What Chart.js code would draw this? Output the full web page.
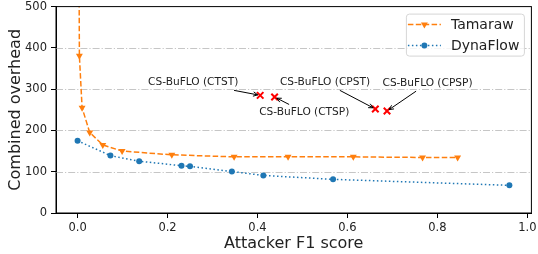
<!DOCTYPE html>
<html>
<head>
<meta charset="utf-8">
<script src="https://cdn.jsdelivr.net/npm/chart.js@4.4.1/dist/chart.umd.min.js"></script>
<style>
  html, body { margin: 0; padding: 0; background: #fff; }
</style>
</head>
<body>
<canvas id="overheadChart" width="538" height="254"></canvas>
<script>
// values
const tamarawF1 = [0.001, 0.004, 0.010, 0.027, 0.056, 0.099, 0.2095, 0.348, 0.468, 0.613, 0.767, 0.845];
const tamarawOverhead = [1200, 381, 255, 195, 165, 150, 141, 136, 136, 136, 134.5, 134.5];
const dynaflowF1 = [0.0, 0.073, 0.137, 0.231, 0.250, 0.343, 0.413, 0.568, 0.96];
const dynaflowOverhead = [175, 139, 125.5, 114.5, 113, 100.5, 91, 81.5, 67];
const bufloLabels = ['CS-BuFLO (CTST)', 'CS-BuFLO (CTSP)', 'CS-BuFLO (CPST)', 'CS-BuFLO (CPSP)'];
const bufloF1 = [0.406, 0.438, 0.662, 0.688];
const bufloOverhead = [285, 281, 252, 247];
const xTicks = [0, 0.2, 0.4, 0.6, 0.8, 1.0];
const yTicks = [0, 100, 200, 300, 400, 500];

// where each CS-BuFLO label text is centred (data units)
const bufloTextX = [0.257, 0.504, 0.55, 0.778];
const bufloTextY = [316, 244, 316, 314];

const ORANGE = '#ff7f0e';
const BLUE = '#1f77b4';
const FONT = '"DejaVu Sans", sans-serif';

const toPoints = (xs, ys) => xs.map((x, i) => ({ x: x, y: ys[i] }));

function drawMarker(ctx, style, x, y, r) {
    ctx.beginPath();
    if (style === 'tri') {
        ctx.moveTo(x, y + r);
        ctx.lineTo(x - r * 0.866, y - r * 0.5);
        ctx.lineTo(x + r * 0.866, y - r * 0.5);
        ctx.closePath();
    } else {
        ctx.arc(x, y, r, 0, Math.PI * 2);
    }
    ctx.fill();
}

const figurePlugin = {
    id: 'figure',
    beforeDatasetsDraw(chart) {
        const { ctx, chartArea: a, scales: { y } } = chart;
        ctx.save();
        ctx.strokeStyle = '#c6c6c6';
        ctx.lineWidth = 1;
        ctx.setLineDash([7, 2, 1.2, 2]);
        yTicks.forEach(v => {
            if (v <= y.min || v >= y.max) return;
            const py = Math.round(y.getPixelForValue(v)) + 0.5;
            ctx.beginPath();
            ctx.moveTo(a.left, py);
            ctx.lineTo(a.right, py);
            ctx.stroke();
        });
        ctx.restore();
    },
    afterDatasetsDraw(chart) {
        const { ctx, chartArea: a, scales: { x, y } } = chart;
        ctx.save();
        // frame
        ctx.strokeStyle = '#000';
        ctx.lineWidth = 1;
        ctx.strokeRect(a.left, a.top, a.right - a.left, a.bottom - a.top);

        // CS-BuFLO labels with arrows
        ctx.font = '10.6px ' + FONT;
        ctx.textAlign = 'center';
        ctx.textBaseline = 'middle';
        bufloLabels.forEach((label, i) => {
            const tx = x.getPixelForValue(bufloTextX[i]);
            const ty = y.getPixelForValue(bufloTextY[i]);
            const px = x.getPixelForValue(bufloF1[i]);
            const py = y.getPixelForValue(bufloOverhead[i]);
            ctx.fillStyle = '#222';
            ctx.fillText(label, tx, ty);

            const hw = ctx.measureText(label).width / 2 + 2;
            const hh = 7.8;
            const dx = px - tx, dy = py - ty;
            const len = Math.hypot(dx, dy);
            const t0 = Math.min(hw / Math.abs(dx), hh / Math.abs(dy));
            const t1 = 1 - 2.5 / len;
            const sx = tx + dx * t0, sy = ty + dy * t0;
            const ex = tx + dx * t1, ey = ty + dy * t1;
            const ang = Math.atan2(dy, dx);
            ctx.strokeStyle = '#000';
            ctx.lineWidth = 1;
            ctx.beginPath();
            ctx.moveTo(sx, sy);
            ctx.lineTo(ex, ey);
            ctx.moveTo(ex - 5 * Math.cos(ang - 0.45), ey - 5 * Math.sin(ang - 0.45));
            ctx.lineTo(ex, ey);
            ctx.lineTo(ex - 5 * Math.cos(ang + 0.45), ey - 5 * Math.sin(ang + 0.45));
            ctx.stroke();
        });
        ctx.restore();
    },
    afterDraw(chart) {
        const { ctx, chartArea: a } = chart;
        const bw = 118, bh = 42;
        const bx = a.right - 7.5 - bw, by = a.top + 7;
        ctx.save();
        ctx.beginPath();
        ctx.roundRect(bx + 0.5, by + 0.5, bw, bh, 3);
        ctx.fillStyle = 'rgba(255,255,255,0.8)';
        ctx.fill();
        ctx.strokeStyle = '#d6d6d6';
        ctx.lineWidth = 1;
        ctx.stroke();

        const entries = [
            { label: 'Tamaraw', color: ORANGE, dash: [5.5, 2.4], marker: 'tri', r: 4 },
            { label: 'DynaFlow', color: BLUE, dash: [1.5, 2.5], marker: 'dot', r: 3 },
        ];
        ctx.font = '14px ' + FONT;
        ctx.textBaseline = 'middle';
        ctx.textAlign = 'left';
        entries.forEach((e, i) => {
            const ly = by + 11 + i * 21;
            ctx.strokeStyle = e.color;
            ctx.lineWidth = 1.5;
            ctx.setLineDash(e.dash);
            ctx.beginPath();
            ctx.moveTo(bx + 2, ly);
            ctx.lineTo(bx + 35, ly);
            ctx.stroke();
            ctx.setLineDash([]);
            ctx.fillStyle = e.color;
            drawMarker(ctx, e.marker, bx + 18.5, ly, e.r);
            ctx.fillStyle = '#222';
            ctx.fillText(e.label, bx + 45, ly + 1);
        });
        ctx.restore();
    }
};

const axisTicks = {
    font: { family: FONT, size: 11.5, lineHeight: 1 },
    color: '#222',
    padding: 4,
    autoSkip: false,
    maxRotation: 0,
};
const axisGrid = {
    drawOnChartArea: false,
    color: '#000',
    tickColor: '#000',
    tickLength: 5,
    tickWidth: 1,
};

const overheadCtx = document.getElementById('overheadChart').getContext('2d');
const overheadChart = new Chart(overheadCtx, {
    type: 'scatter',
    data: {
        datasets: [
            {
                label: 'Tamaraw',
                data: toPoints(tamarawF1, tamarawOverhead),
                showLine: true,
                borderColor: ORANGE,
                backgroundColor: ORANGE,
                borderWidth: 1.5,
                borderDash: [5.5, 2.4],
                pointStyle: 'triangle',
                pointRotation: 180,
                pointRadius: 4,
                pointBorderWidth: 0,
            },
            {
                label: 'DynaFlow',
                data: toPoints(dynaflowF1, dynaflowOverhead),
                showLine: true,
                borderColor: BLUE,
                backgroundColor: BLUE,
                borderWidth: 1.5,
                borderDash: [1.5, 2.5],
                pointStyle: 'circle',
                pointRadius: 3,
                pointBorderWidth: 0,
            },
            {
                label: 'CS-BuFLO',
                data: toPoints(bufloF1, bufloOverhead),
                showLine: false,
                borderColor: 'red',
                backgroundColor: 'red',
                pointStyle: 'crossRot',
                pointRadius: 4.6,
                pointBorderWidth: 2,
            },
        ],
    },
    options: {
        responsive: false,
        animation: false,
        devicePixelRatio: 1,
        layout: { padding: { top: 6, right: 5.5, left: 0, bottom: 0 } },
        plugins: {
            legend: { display: false },
            tooltip: { enabled: false },
        },
        scales: {
            x: {
                type: 'linear',
                min: -0.048,
                max: 1.009,
                afterBuildTicks: s => { s.ticks = xTicks.map(v => ({ value: v })); },
                afterFit: s => { s.height = 41; s.paddingLeft = 0; s.paddingRight = 0; },
                ticks: { ...axisTicks, callback: v => v.toFixed(1) },
                grid: axisGrid,
                border: { color: '#000', width: 1 },
                title: {
                    display: true,
                    text: 'Attacker F1 score',
                    color: '#222',
                    font: { family: FONT, size: 16 },
                    padding: { top: 0, bottom: 1 },
                },
            },
            y: {
                min: 0,
                max: 500,
                afterBuildTicks: s => { s.ticks = yTicks.map(v => ({ value: v })); },
                afterFit: s => { s.width = 56; s.paddingTop = 0; s.paddingBottom = 0; },
                ticks: { ...axisTicks, callback: v => v },
                grid: axisGrid,
                border: { color: '#000', width: 1 },
                title: {
                    display: true,
                    text: 'Combined overhead',
                    color: '#222',
                    font: { family: FONT, size: 16 },
                    padding: { top: 6, bottom: 0 },
                },
            },
        },
    },
    plugins: [figurePlugin],
});
</script>
</body>
</html>
